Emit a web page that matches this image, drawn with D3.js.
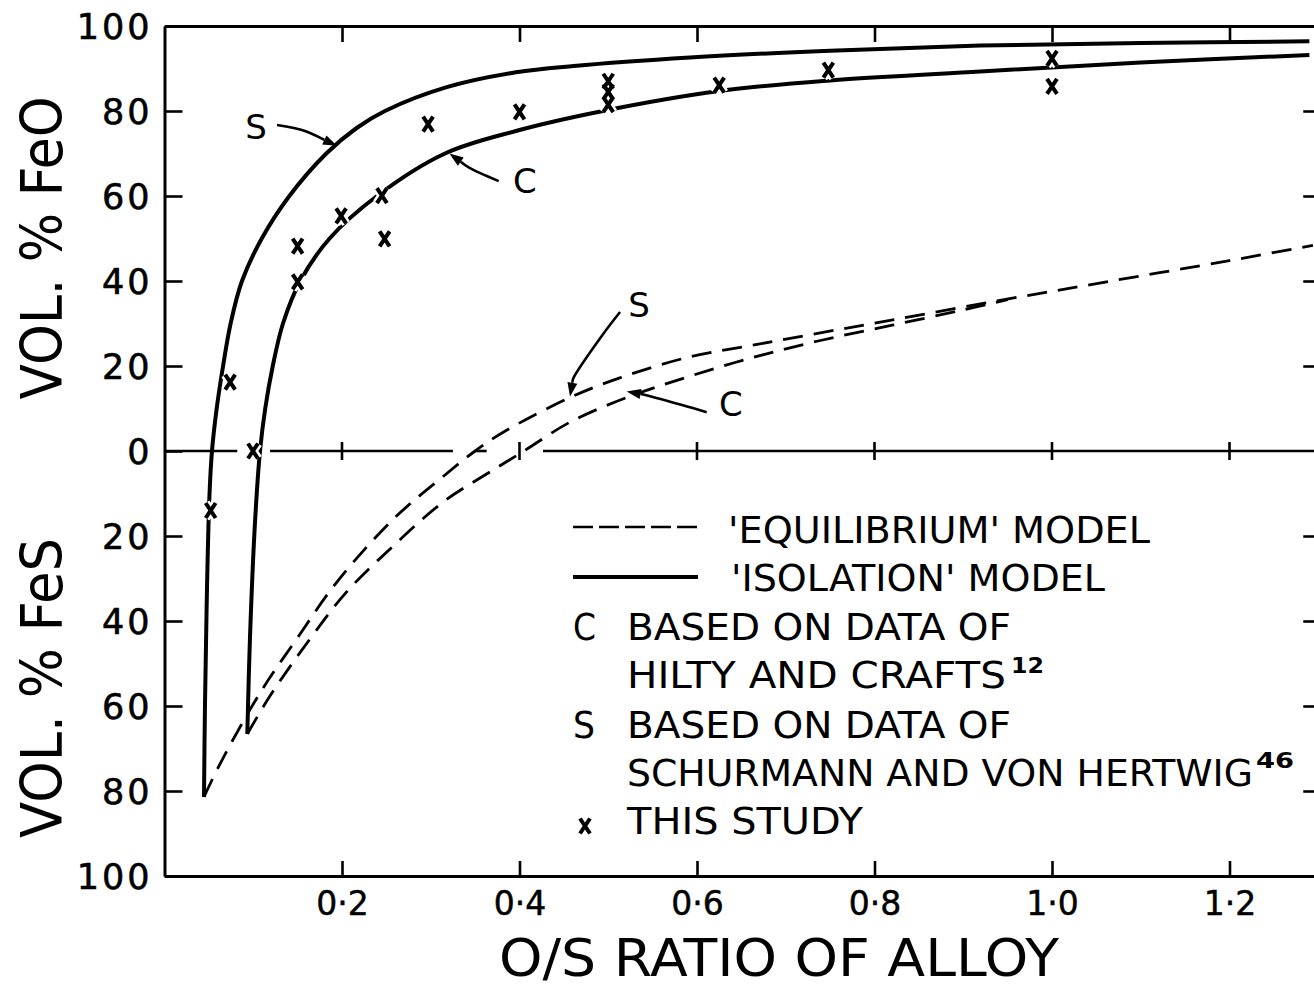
<!DOCTYPE html>
<html>
<head>
<meta charset="utf-8">
<script src="https://cdn.jsdelivr.net/npm/d3@7"></script>
<style>
  body { margin: 0; background: #fff; }
  svg { display: block; background: #fff; }
  text { font-family: "DejaVu Sans", "Liberation Sans", sans-serif; fill: #000; }
</style>
</head>
<body>
<svg id="chart" width="1314" height="991"></svg>
<script>
// Inclusion composition vs. O/S ratio of the alloy.
// Positive y = vol. % FeO, negative y = vol. % FeS.

// 'Isolation' model, based on Schurmann and von Hertwig (S)
const isolationS = [
  [0.0445, -81.4], [0.0456, -59.8], [0.0475, -36.4], [0.0505, -11.3], [0.0535, 0],
  [0.0588, 10], [0.066, 20], [0.0745, 30], [0.0873, 40], [0.1096, 50],
  [0.1407, 60], [0.1823, 70], [0.2165, 76], [0.2484, 80], [0.318, 85.6],
  [0.396, 89.1], [0.461, 90.6], [0.592, 92.6], [0.75, 94.2], [0.919, 95.4],
  [1.1, 96], [1.29, 96.4]
];

// 'Isolation' model, based on Hilty and Crafts (C)
const isolationC = [
  [0.0933, -66.6], [0.0963, -44], [0.102, -16.7], [0.1076, 0], [0.1135, 10],
  [0.122, 20], [0.1335, 30], [0.153, 40], [0.186, 50], [0.2394, 60],
  [0.316, 70], [0.396, 75.3], [0.494, 80], [0.625, 84.7], [0.75, 87.2],
  [0.919, 89.3], [1.1, 91.4], [1.29, 93.2]
];

// 'Equilibrium' model, S
const equilibriumS = [
  [0.0445, -81.4], [0.0626, -73.6], [0.108, -56.8], [0.149, -44.2], [0.194, -30.9],
  [0.258, -16], [0.314, -6], [0.35, 0], [0.384, 4.7], [0.457, 12.6],
  [0.513, 17.2], [0.589, 22], [0.663, 24.9], [0.739, 27.8], [0.819, 30.8],
  [0.943, 35.5], [1.067, 40], [1.2, 44.8], [1.294, 48.4]
];

// 'Equilibrium' model, C
const equilibriumC = [
  [0.0933, -66.6], [0.119, -57.6], [0.164, -44.2], [0.205, -33.2], [0.258, -22.3],
  [0.314, -12], [0.37, -4.5], [0.405, 0], [0.457, 6.8], [0.521, 12.6],
  [0.589, 17.4], [0.663, 22], [0.739, 26], [0.82, 29.6], [0.9, 33.2], [0.95, 35.6]
];

// Measurements, this study
const studyPoints = [
  [0.052, -14], [0.074, 16.2], [0.0997, 0], [0.15, 48.2], [0.15, 39.8],
  [0.199, 55.3], [0.245, 60.1], [0.248, 49.9], [0.297, 76.9], [0.40, 79.8],
  [0.50, 87], [0.50, 84.5], [0.50, 81.5], [0.625, 86.1], [0.748, 89.6],
  [1.0, 92.4], [1.0, 85.8]
];

const xTickValues = [0.2, 0.4, 0.6, 0.8, 1.0, 1.2];
const yTickValues = [-100, -80, -60, -40, -20, 0, 20, 40, 60, 80, 100];
const innerYTicks = [-80, -60, -40, -20, 20, 40, 60, 80];
// Pieces of the y = 0 line (left open where curves and points cross it)
const zeroLineSpans = [[0, 0.082], [0.119, 0.325], [0.35, 0.363], [0.4265, 1.3]];

const svg = d3.select("#chart");
const x = d3.scaleLinear().domain([0, 1.3]).range([164.5, 1318.25]);
const y = d3.scaleLinear().domain([-100, 100]).range([876, 26]);

const fmtX = d => d3.format(".1f")(d).replace(".", "\u00B7");

function styleAxis(g, w) {
  g.select(".domain").attr("stroke", "#000").attr("stroke-width", w);
  g.selectAll(".tick line").attr("stroke", "#000").attr("stroke-width", 2.6);
  g.selectAll(".tick text").attr("fill", "#000");
}

// Frame: left axis with labels
const gLeft = svg.append("g").attr("transform", `translate(${x(0)},0)`)
  .call(d3.axisLeft(y).tickValues(yTickValues).tickSizeInner(-18).tickSizeOuter(0)
    .tickPadding(12).tickFormat(d => Math.abs(d)));
styleAxis(gLeft, 3);
gLeft.selectAll(".tick text").attr("font-size", 35).attr("letter-spacing", 3)
  .attr("dy", "0.36em").attr("stroke", "#000").attr("stroke-width", 0.6);

// Top border
const gTop = svg.append("g").attr("transform", `translate(0,${y(100)})`)
  .call(d3.axisTop(x).tickValues(xTickValues).tickSizeInner(-16).tickSizeOuter(0).tickFormat(""));
styleAxis(gTop, 3);

// Bottom axis with labels
const gBottom = svg.append("g").attr("transform", `translate(0,${y(-100)})`)
  .call(d3.axisBottom(x).tickValues(xTickValues).tickSizeInner(-15).tickSizeOuter(0)
    .tickPadding(16).tickFormat(fmtX));
styleAxis(gBottom, 3);
gBottom.selectAll(".tick text").attr("font-size", 33).attr("stroke", "#000").attr("stroke-width", 0.5);

// Right border ticks
const gRight = svg.append("g").attr("transform", `translate(${x(1.3)},0)`)
  .call(d3.axisRight(y).tickValues(innerYTicks).tickSizeInner(-15).tickSizeOuter(0).tickFormat(""));
styleAxis(gRight, 3);

// Zero line with crossing ticks
svg.append("g").selectAll("line").data(zeroLineSpans).join("line")
  .attr("x1", d => x(d[0])).attr("x2", d => x(d[1]))
  .attr("y1", y(0)).attr("y2", y(0))
  .attr("stroke", "#000").attr("stroke-width", 2.6);
svg.append("g").selectAll("line").data(xTickValues).join("line")
  .attr("x1", d => x(d)).attr("x2", d => x(d))
  .attr("y1", y(0) - 9).attr("y2", y(0) + 9)
  .attr("stroke", "#000").attr("stroke-width", 2.6);

// Curves
const line = d3.line().x(d => x(d[0])).y(d => y(d[1])).curve(d3.curveCatmullRom.alpha(0.5));

svg.append("g").selectAll("path").data([equilibriumS, equilibriumC]).join("path")
  .attr("d", line).attr("fill", "none").attr("stroke", "#000")
  .attr("stroke-width", 2.8).attr("stroke-dasharray", "20,11");

svg.append("g").selectAll("path").data([isolationS, isolationC]).join("path")
  .attr("d", line).attr("fill", "none").attr("stroke", "#000")
  .attr("stroke-width", 4).attr("stroke-linejoin", "round");

// Study points: bold "x" marks with a thin white surround
const markPath = "M-5,-7.5L5,7.5M5,-7.5L-5,7.5";
const gPts = svg.append("g");
gPts.selectAll("path.halo").data(studyPoints).join("path")
  .attr("class", "halo")
  .attr("transform", d => `translate(${x(d[0])},${y(d[1])})`)
  .attr("d", markPath).attr("stroke", "#fff").attr("stroke-width", 9).attr("fill", "none");
gPts.selectAll("path.mark").data(studyPoints).join("path")
  .attr("class", "mark")
  .attr("transform", d => `translate(${x(d[0])},${y(d[1])})`)
  .attr("d", markPath).attr("stroke", "#000").attr("stroke-width", 4).attr("fill", "none");

// Curve labels with arrows (label position, then the arrow path ending on the curve)
const annotations = [
  { text: "S", at: [0.1031, 76.3], path: [[0.1268, 76.7], [0.1583, 75.3], [0.1944, 71.8]] },
  { text: "C", at: [0.406, 63.5], path: [[0.3766, 63.5], [0.3437, 66.6], [0.321, 70.0]] },
  { text: "S", at: [0.5346, 34.3], path: [[0.5133, 32.7], [0.4935, 27.3], [0.4604, 17.0], [0.4569, 12.8]] },
  { text: "C", at: [0.6383, 11.0], path: [[0.6109, 9.1], [0.5832, 10.8], [0.5395, 13.3], [0.5208, 14.0]] }
];
const arrowLine = d3.line().curve(d3.curveCatmullRom.alpha(0.5));
const gAnn = svg.append("g");
annotations.forEach(a => {
  const pts = a.path.map(p => [x(p[0]), y(p[1])]);
  const tip = pts[pts.length - 1];
  const prev = pts[pts.length - 2];
  const dx = tip[0] - prev[0], dy = tip[1] - prev[1];
  const len = Math.hypot(dx, dy);
  const ux = dx / len, uy = dy / len;
  const head = 14, half = 5;
  const base = [tip[0] - ux * head, tip[1] - uy * head];
  const linePts = pts.slice(0, -1).concat([base]);
  gAnn.append("path").attr("d", arrowLine(linePts)).attr("fill", "none")
    .attr("stroke", "#000").attr("stroke-width", 2.6);
  gAnn.append("path")
    .attr("d", `M${tip[0]},${tip[1]}L${base[0] - uy * half},${base[1] + ux * half}L${base[0] + uy * half},${base[1] - ux * half}Z`)
    .attr("fill", "#000");
  gAnn.append("text").attr("x", x(a.at[0])).attr("y", y(a.at[1]))
    .attr("text-anchor", "middle").attr("dy", "0.36em")
    .attr("font-size", 34).text(a.text);
});

// Legend
const gLeg = svg.append("g");
gLeg.append("line").attr("x1", 573).attr("x2", 698).attr("y1", 527).attr("y2", 527)
  .attr("stroke", "#000").attr("stroke-width", 2.6).attr("stroke-dasharray", "20,6");
gLeg.append("line").attr("x1", 573).attr("x2", 698).attr("y1", 577).attr("y2", 577)
  .attr("stroke", "#000").attr("stroke-width", 4);

const legendRows = [
  { x: 728, y: 543, text: "'EQUILIBRIUM' MODEL", w: 422 },
  { x: 731, y: 591, text: "'ISOLATION' MODEL", w: 374 },
  { x: 573, y: 640, text: "C", w: 23 },
  { x: 627, y: 640, text: "BASED ON DATA OF", w: 384 },
  { x: 627, y: 688, text: "HILTY AND CRAFTS", w: 379 },
  { x: 573, y: 738, text: "S", w: 22 },
  { x: 627, y: 738, text: "BASED ON DATA OF", w: 384 },
  { x: 627, y: 786, text: "SCHURMANN AND VON HERTWIG", w: 626 },
  { x: 627, y: 834, text: "THIS STUDY", w: 236 }
];
gLeg.selectAll("text.row").data(legendRows).join("text")
  .attr("class", "row")
  .attr("x", d => d.x).attr("y", d => d.y)
  .attr("font-size", 38)
  .attr("textLength", d => d.w).attr("lengthAdjust", "spacingAndGlyphs")
  .text(d => d.text);

const sups = [
  { x: 1011, y: 673, text: "12", w: 33 },
  { x: 1256, y: 768, text: "46", w: 38 }
];
gLeg.selectAll("text.sup").data(sups).join("text")
  .attr("class", "sup")
  .attr("x", d => d.x).attr("y", d => d.y)
  .attr("font-size", 22).attr("font-weight", "bold")
  .attr("textLength", d => d.w).attr("lengthAdjust", "spacingAndGlyphs")
  .text(d => d.text);

gLeg.append("path").attr("transform", "translate(585,826)")
  .attr("d", markPath).attr("stroke", "#000").attr("stroke-width", 4).attr("fill", "none");

// Axis titles
svg.append("text")
  .attr("transform", "translate(62,248) rotate(-90)")
  .attr("text-anchor", "middle").attr("font-size", 57)
  .attr("textLength", 303).attr("lengthAdjust", "spacingAndGlyphs")
  .text("VOL. % FeO");
svg.append("text")
  .attr("transform", "translate(62,688) rotate(-90)")
  .attr("text-anchor", "middle").attr("font-size", 57)
  .attr("textLength", 300).attr("lengthAdjust", "spacingAndGlyphs")
  .text("VOL. % FeS");
svg.append("text")
  .attr("x", 779).attr("y", 976)
  .attr("text-anchor", "middle").attr("font-size", 52)
  .attr("textLength", 560).attr("lengthAdjust", "spacingAndGlyphs")
  .text("O/S RATIO OF ALLOY");
</script>
</body>
</html>
